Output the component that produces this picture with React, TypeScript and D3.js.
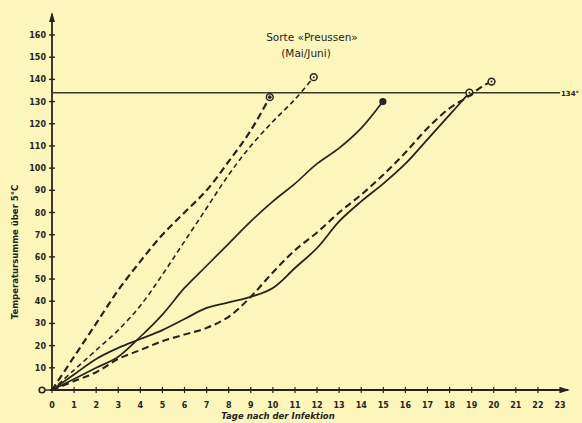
import React from "react";
import * as d3 from "d3";

const xTicks = d3.range(0, 24);
const yTicks = d3.range(10, 161, 10);
const thresholdValue = 134;
const thresholdLabel = "134°";
const titleLines = ["Sorte «Preussen»", "(Mai/Juni)"];
const xTitle = "Tage nach der Infektion";
const yTitle = "Temperatursumme über 5°C";

const daysA = [0, 1, 2, 3, 4, 5, 6, 7, 8, 9, 9.86];
const valsA = [0, 15, 30, 45, 58, 70, 80, 90, 103, 117, 132];

const daysB = [0, 1, 2, 3, 4, 5, 6, 7, 8, 9, 10, 11, 11.85];
const valsB = [0, 9, 18, 27, 38, 52, 67, 82, 97, 110, 121, 131, 141];

const daysC = [0, 1, 2, 3, 4, 5, 6, 7, 8, 9, 10, 11, 12, 13, 14, 14.98];
const valsC = [0, 5, 10, 15, 24, 34, 46, 56, 66, 76, 85, 93, 102, 109, 118, 130];

const daysD = [0, 1, 2, 3, 4, 5, 6, 7, 8, 9, 10, 11, 12, 13, 14, 15, 16, 17, 18, 18.9];
const valsD = [0, 7, 14, 19, 23, 27, 32, 37, 39.5, 42, 46, 55, 64, 76, 85, 93, 102, 113, 124, 134];

const daysE = [0, 1, 2, 3, 4, 5, 6, 7, 8, 9, 10, 11, 12, 13, 14, 15, 16, 17, 18, 18.8, 19.5, 19.9];
const valsE = [0, 4, 8, 14, 18, 22, 25, 28, 33, 42, 53, 63, 71, 80, 88, 97, 107, 118, 127, 132, 137, 139];

const INK = "#26241c";
const BG = "#fcf6bd";
const FONT = "'DejaVu Sans', sans-serif";

type S = { days: number[]; vals: number[]; dash: string; width: number; marker: "ring" | "filled" | "dot" };
const series: S[] = [
  { days: daysA, vals: valsA, dash: "7 4", width: 2.2, marker: "dot" },
  { days: daysB, vals: valsB, dash: "5 3.5", width: 1.6, marker: "ring" },
  { days: daysC, vals: valsC, dash: "", width: 1.7, marker: "filled" },
  { days: daysD, vals: valsD, dash: "", width: 1.8, marker: "ring" },
  { days: daysE, vals: valsE, dash: "7 4", width: 2.1, marker: "ring" },
];

export default function App() {
  const W = 582, H = 423;
  const x = d3.scaleLinear().domain([0, 23]).range([52, 560]);
  const y = d3.scaleLinear().domain([0, 160]).range([390, 35]);
  const line = d3
    .line<[number, number]>()
    .x((d) => x(d[0]))
    .y((d) => y(d[1]))
    .curve(d3.curveCatmullRom.alpha(0.5));

  return (
    <svg width={W} height={H} style={{ position: "absolute", left: 0, top: 0, background: BG }}>
      <rect x={0} y={0} width={W} height={H} fill={BG} />
      {/* axes */}
      <line x1={x(0)} y1={y(0)} x2={x(0)} y2={14} stroke={INK} strokeWidth={1.8} />
      <path d={`M${x(0) - 3},${22} L${x(0)},${12} L${x(0) + 3},${22} Z`} fill={INK} />
      <line x1={x(0) - 2} y1={y(0)} x2={568} y2={y(0)} stroke={INK} strokeWidth={1.8} />
      <path d={`M${560},${y(0) - 3} L${570},${y(0)} L${560},${y(0) + 3} Z`} fill={INK} />
      {/* y ticks */}
      {yTicks.map((t) => (
        <g key={"y" + t}>
          <line x1={x(0) - 3} x2={x(0) + 3} y1={y(t)} y2={y(t)} stroke={INK} strokeWidth={1.4} />
          <text x={x(0) - 6} y={y(t) + 3} textAnchor="end" fontSize={8} fontWeight="bold" fontFamily={FONT} fill={INK}>
            {t}
          </text>
        </g>
      ))}
      <line x1={x(0) - 7} x2={x(0)} y1={y(0)} y2={y(0)} stroke={INK} strokeWidth={1.4} />
      <circle cx={x(0) - 10} cy={y(0)} r={2.8} fill="none" stroke={INK} strokeWidth={1.6} />
      {/* x ticks */}
      {xTicks.map((t) => (
        <g key={"x" + t}>
          <line x1={x(t)} x2={x(t)} y1={y(0) - 3} y2={y(0) + 3} stroke={INK} strokeWidth={1.2} />
          <text x={x(t)} y={y(0) + 18} textAnchor="middle" fontSize={8} fontWeight="bold" fontFamily={FONT} fill={INK}>
            {t}
          </text>
        </g>
      ))}
      {/* threshold */}
      <line x1={x(0)} x2={560} y1={y(thresholdValue)} y2={y(thresholdValue)} stroke="#3a382e" strokeWidth={1.6} />
      <text x={561} y={y(thresholdValue) + 3} fontSize={7} fontWeight="bold" fontFamily={FONT} fill={INK}>
        {thresholdLabel}
      </text>
      {/* curves */}
      {series.map((s, i) => {
        const pts = s.days.map((d, j) => [d, s.vals[j]] as [number, number]);
        const last = pts[pts.length - 1];
        return (
          <g key={"s" + i}>
            <path d={line(pts) || ""} fill="none" stroke={INK} strokeWidth={s.width} strokeDasharray={s.dash || undefined} strokeLinecap="butt" />
            {s.marker === "filled" ? (
              <circle cx={x(last[0])} cy={y(last[1])} r={3.6} fill={INK} />
            ) : (
              <g>
                <circle cx={x(last[0])} cy={y(last[1])} r={3.4} fill={BG} stroke={INK} strokeWidth={1.5} />
                <circle cx={x(last[0])} cy={y(last[1])} r={s.marker === "dot" ? 1.8 : 1} fill={INK} />
              </g>
            )}
          </g>
        );
      })}
      {/* titles */}
      <text x={312} y={41} textAnchor="middle" fontSize={10.5} fontFamily={FONT} fill={INK}>
        {titleLines[0]}
      </text>
      <text x={306} y={57} textAnchor="middle" fontSize={10.5} fontFamily={FONT} fill={INK}>
        {titleLines[1]}
      </text>
      <text x={278} y={419} textAnchor="middle" fontSize={8.5} fontWeight="bold" fontStyle="italic" fontFamily={FONT} fill={INK}>
        {xTitle}
      </text>
      <text transform={`translate(18,252) rotate(-90)`} textAnchor="middle" fontSize={8.5} fontWeight="bold" fontFamily={FONT} fill={INK}>
        {yTitle}
      </text>
    </svg>
  );
}
